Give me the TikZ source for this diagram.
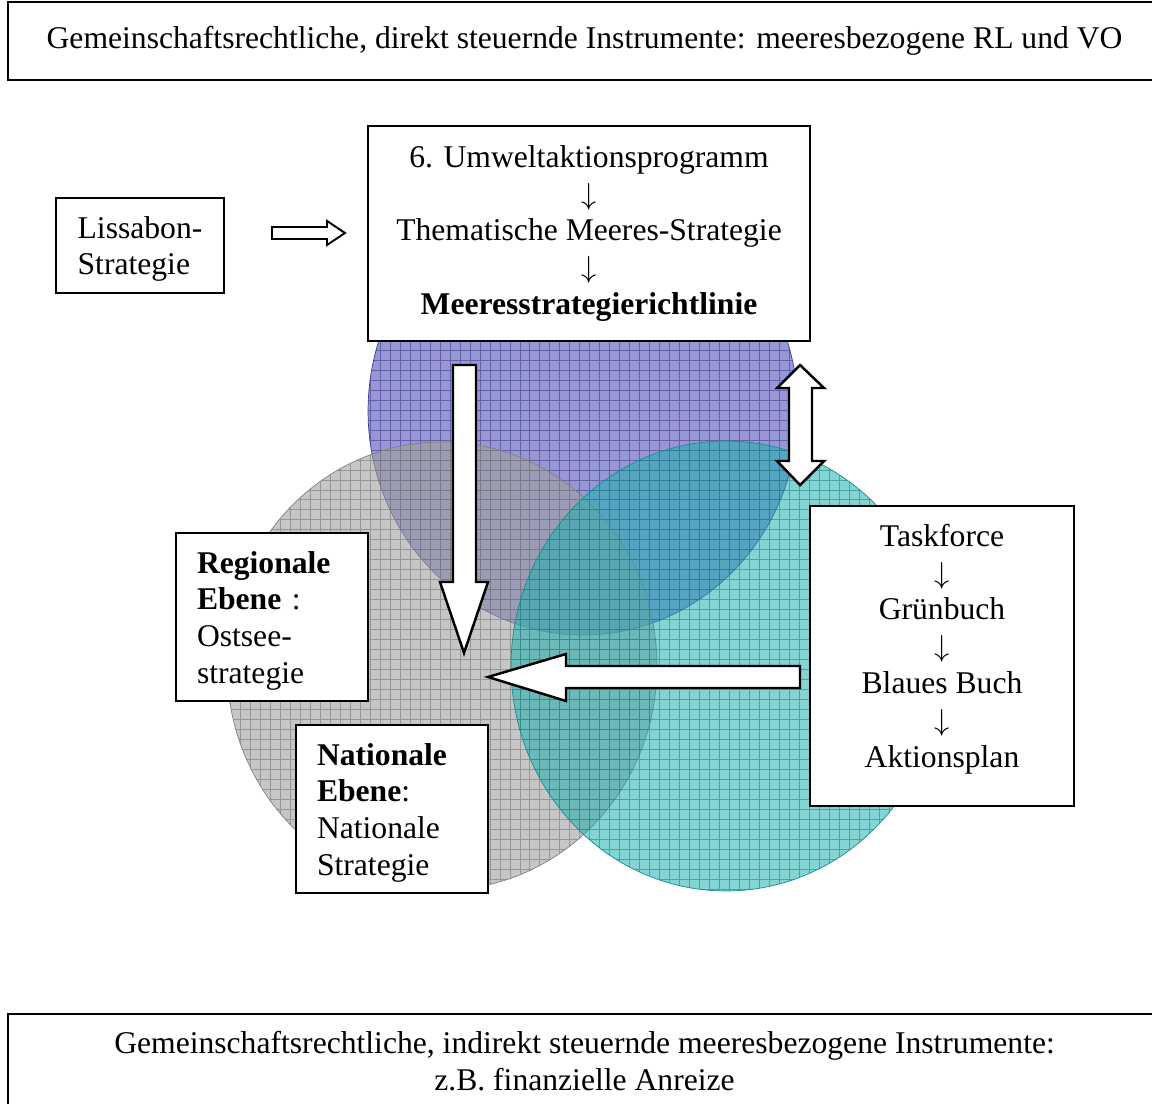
\documentclass[tikz,border=0pt]{standalone}
\usepackage{fontspec}
\setmainfont{Liberation Serif}
\definecolor{ringblue}{HTML}{4C4CB8}
\definecolor{ringgray}{HTML}{A0A0A0}
\definecolor{ringteal}{HTML}{20B0B0}
\newcommand\dn{$\downarrow$}
\newcommand\toprule{\rule{0pt}{16.8pt}}
\tikzset{
  infobox/.style={draw, fill=white, line width=0.9pt, inner sep=0pt, align=center,
    font=\fontsize{18}{21}\selectfont},
  levelbox/.style={infobox, align=left, text width=3cm, inner xsep=0.42cm,
    minimum width=3.84cm, minimum height=3.36cm},
  blockarrow/.style={draw, fill=white, line width=1.4pt, line join=miter},
  ringgrid/.style={line width=0.45pt, draw opacity=0.55},
}
\begin{document}
\begin{tikzpicture}[x=0.02cm, y=-0.02cm]
            \useasboundingbox (0,0) rectangle (1152,1104);
            \def\bluecircle{(583,411) ellipse (4.3cm and 4.48cm)}
            \def\graycircle{(442,666) ellipse (4.3cm and 4.48cm)}
            \def\tealcircle{(726,666) ellipse (4.3cm and 4.5cm)}
            % the three levels, each with its grid
            \fill[ringblue, fill opacity=0.58] \bluecircle;
                \begin{scope}
            \clip \bluecircle;
            \draw[ringgrid, ringblue!70!black, step=0.2cm] (0,1104) grid (1152,0);
                \end{scope}
            \draw[ringblue!80!black, thin] \bluecircle;
            \fill[ringgray, fill opacity=0.6] \graycircle;
                \begin{scope}
            \clip \graycircle;
            \draw[ringgrid, ringgray!70!black, step=0.2cm] (0,1104) grid (1152,0);
                \end{scope}
            \draw[ringgray!80!black, thin] \graycircle;
            \fill[ringteal, fill opacity=0.55] \tealcircle;
                \begin{scope}
            \clip \tealcircle;
            \draw[ringgrid, ringteal!70!black, step=0.2cm] (0,1104) grid (1152,0);
                \end{scope}
            \draw[ringteal!80!black, thin] \tealcircle;
            % block arrows
            \draw[blockarrow, line width=1.1pt] (272,227) -- (327,227) -- (327,221) -- (345,233)
                -- (327,245) -- (327,239) -- (272,239) -- cycle;
            \draw[blockarrow] (453,365) -- (476,365) -- (476,582) -- (488,582) -- (464,653)
                -- (440,582) -- (453,582) -- cycle;
            \draw[blockarrow] (800,666) -- (566,666) -- (566,654) -- (488,677) -- (566,701)
                -- (566,688) -- (800,688) -- cycle;
            \draw[blockarrow] (800,365) -- (824,388) -- (812,388) -- (812,461) -- (824,461)
                -- (800,485) -- (777,461) -- (789,461) -- (789,388) -- (777,388) -- cycle;
            % boxes
            \node (direkt) [infobox, minimum width=23.06cm, minimum height=1.56cm] at (584.5,41)
                {Gemeinschaftsrechtliche, direkt steuernde Instrumente: meeresbezogene RL und VO};
            \node (lissabon) [infobox, align=left, minimum width=3.36cm, minimum height=1.9cm,
                text depth=0pt] at (140,245.5)
                {Lissabon-\\Strategie};
            \node (programm) [infobox, minimum width=8.84cm, minimum height=4.3cm] at (589,233.5)
                {6. Umweltaktionsprogramm\\\dn\\Thematische Meeres-Strategie\\\dn\\\textbf{Meeresstrategierichtlinie}};
            \node (regional) [levelbox] at (272,617)
                {\toprule\textbf{Regionale}\\\textbf{Ebene} :\\Ostsee-\\strategie};
            \node (national) [levelbox] at (392,809)
                {\toprule\textbf{Nationale}\\\textbf{Ebene}:\\Nationale\\Strategie};
            \node (taskforce) [infobox, minimum width=5.28cm, minimum height=6cm, text depth=0.41cm] at (942,656)
                {Taskforce\\\dn\\Grünbuch\\\dn\\Blaues Buch\\\dn\\Aktionsplan};
            \node (indirekt) [infobox, minimum width=23.06cm, minimum height=1.9cm] at (584.5,1061.5)
                {Gemeinschaftsrechtliche, indirekt steuernde meeresbezogene Instrumente:\\z.B. finanzielle Anreize};
        \end{tikzpicture}
\end{document}
